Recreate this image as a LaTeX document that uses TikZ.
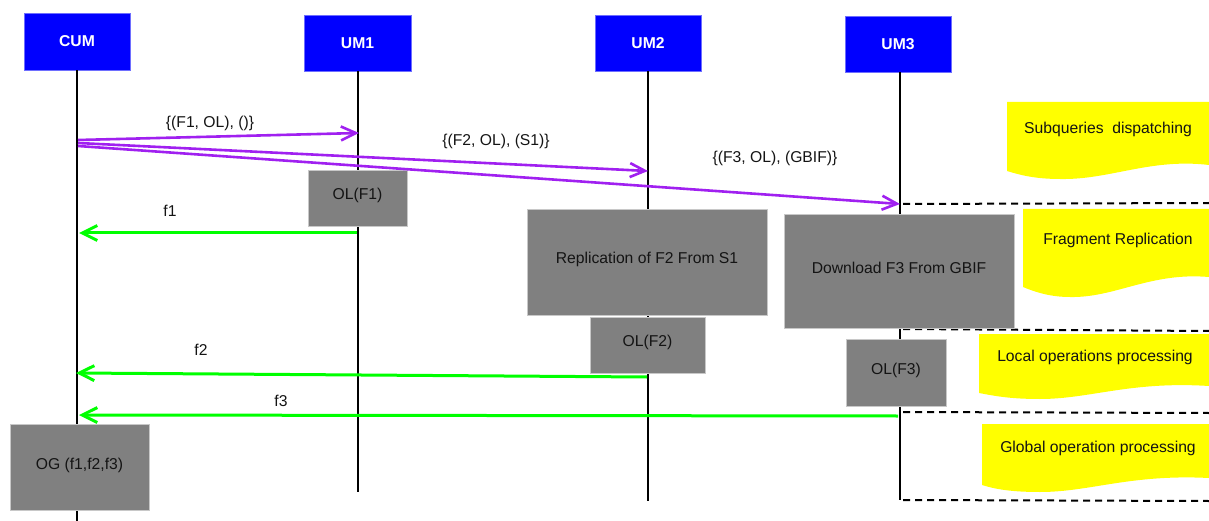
\documentclass[tikz,border=0pt]{standalone}
\usepackage{fontspec}
\setmainfont{Liberation Sans}
\usetikzlibrary{arrows.meta}
\definecolor{umblue}{RGB}{0,0,255}
\definecolor{umborder}{RGB}{110,110,255}
\definecolor{procgray}{RGB}{128,128,128}
\definecolor{procborder}{RGB}{200,200,200}
\definecolor{msgpurple}{RGB}{160,32,240}
\definecolor{retgreen}{RGB}{0,255,0}
\definecolor{noteyellow}{RGB}{255,255,0}
\definecolor{txt}{RGB}{20,20,20}
\begin{document}
\begin{tikzpicture}[x=1pt,y=-1pt,
  font=\fontsize{15.7}{18}\selectfont,
  actor/.style={fill=umblue,draw=umborder,line width=0.8pt,text=white,
    font=\fontsize{15.7}{18}\selectfont\bfseries,inner sep=0pt},
  proc/.style={fill=procgray,draw=procborder,line width=0.8pt,text=txt,inner sep=0pt},
  lifeline/.style={line width=2.2pt,black},
  msg/.style={line width=2.6pt,msgpurple,-{Straight Barb[length=15pt,width=14pt,line width=2.6pt]}},
  ret/.style={line width=3pt,retgreen,-{Straight Barb[length=15pt,width=15pt,line width=3pt]}},
  sep/.style={line width=2pt,black,dash pattern=on 7pt off 5pt},
  note/.style={fill=noteyellow,draw=none},
  lbl/.style={text=txt,inner sep=0pt}
]
\useasboundingbox (0,0) rectangle (1209,521);

% yellow notes
\fill[note] (1007,102) -- (1209,102) -- (1209,165)
  .. controls (1150,158) and (1110,180) .. (1060,179)
  .. controls (1035,179) and (1020,175) .. (1007,171) -- cycle;
\fill[note] (1023,209) -- (1209,209) -- (1209,277)
  .. controls (1150,272) and (1115,298) .. (1070,297)
  .. controls (1050,297) and (1035,292) .. (1023,287) -- cycle;
\fill[note] (979,334) -- (1209,334) -- (1209,386)
  .. controls (1130,381) and (1090,399) .. (1040,399)
  .. controls (1010,399) and (995,396) .. (979,393) -- cycle;
\fill[note] (982,424) -- (1209,424) -- (1209,478)
  .. controls (1130,474) and (1090,492) .. (1040,492)
  .. controls (1010,492) and (995,489) .. (982,485) -- cycle;
\node[lbl] (n1) at (1108,129) {Subqueries\ \ dispatching};
\node[lbl] (n2) at (1118,240) {Fragment Replication};
\node[lbl] (n3) at (1095,357) {Local operations processing};
\node[lbl] (n4) at (1098,448) {Global operation processing};

% actors
\node[actor,minimum width=106pt,minimum height=57pt] (cum) at (77,41.5) {CUM};
\node[actor,minimum width=107pt,minimum height=56pt] (um1) at (357.5,43) {UM1};
\node[actor,minimum width=106pt,minimum height=56pt] (um2) at (648,43) {UM2};
\node[actor,minimum width=106pt,minimum height=56pt] (um3) at (898,44) {UM3};

% lifeline ends
\coordinate (cumEnd) at (77,521);
\coordinate (um1End) at (358,492);
\coordinate (um2End) at (648,501);
\coordinate (um3End) at (900,500);
\draw[lifeline] (cum.south) -- (cumEnd);
\draw[lifeline] (um1.south -| um1End) -- (um1End);
\draw[lifeline] (um2.south) -- (um2End);
\draw[lifeline] (um3.south -| um3End) -- (um3End);

% separators
\coordinate (s1a) at (903,204); \coordinate (s1b) at (1209,203);
\coordinate (s2a) at (903,329); \coordinate (s2b) at (1209,331);
\coordinate (s3a) at (903,412); \coordinate (s3b) at (1209,413);
\coordinate (s4a) at (903,500); \coordinate (s4b) at (1209,501);
\draw[sep] (s1a) -- (s1b);
\draw[sep] (s2a) -- (s2b);
\draw[sep] (s3a) -- (s3b);
\draw[sep] (s4a) -- (s4b);

% processing boxes
\node[proc,minimum width=99pt,minimum height=56pt] (olf1) at (357.5,198) {};
\node[lbl] at (357.5,195) {OL(F1)};
\node[proc,minimum width=240pt,minimum height=106pt] (repl) at (647,262) {};
\node[lbl] at (647,259) {Replication of F2 From S1};
\node[proc,minimum width=230pt,minimum height=114pt] (down) at (899,271) {};
\node[lbl] at (899,268) {Download F3 From GBIF};
\node[proc,minimum width=115pt,minimum height=56pt] (olf2) at (647.5,345) {};
\node[lbl] at (647.5,342) {OL(F2)};
\node[proc,minimum width=100pt,minimum height=67pt] (olf3) at (896,372.5) {};
\node[lbl] at (896,370) {OL(F3)};
\node[proc,minimum width=139pt,minimum height=86pt] (og) at (79.5,467) {};
\node[lbl] at (79.5,465) {OG (f1,f2,f3)};

% messages
\coordinate (m1s) at (78,140); \coordinate (m1e) at (359,133);
\coordinate (m2s) at (78,143); \coordinate (m2e) at (648,171);
\coordinate (m3s) at (78,146); \coordinate (m3e) at (900,204);
\draw[msg] (m1s) -- (m1e);
\draw[msg] (m2s) -- (m2e);
\draw[msg] (m3s) -- (m3e);
\node[lbl] (l1) at (210,123) {\{(F1, OL), ()\}};
\node[lbl] (l2) at (496,141) {\{(F2, OL), (S1)\}};
\node[lbl] (l3) at (775,158) {\{(F3, OL), (GBIF)\}};

% returns
\coordinate (r1s) at (357,233); \coordinate (r1e) at (79,233);
\coordinate (r2s) at (647,377); \coordinate (r2e) at (76,373);
\coordinate (r3s) at (898,416); \coordinate (r3e) at (79,415);
\draw[ret] (r1s) -- (r1e);
\draw[ret] (r2s) -- (r2e);
\draw[ret] (r3s) -- (r3e);
\node[lbl] (f1) at (170,211) {f1};
\node[lbl] (f2) at (201,350) {f2};
\node[lbl] (f3) at (281,401) {f3};
\end{tikzpicture}
\end{document}
